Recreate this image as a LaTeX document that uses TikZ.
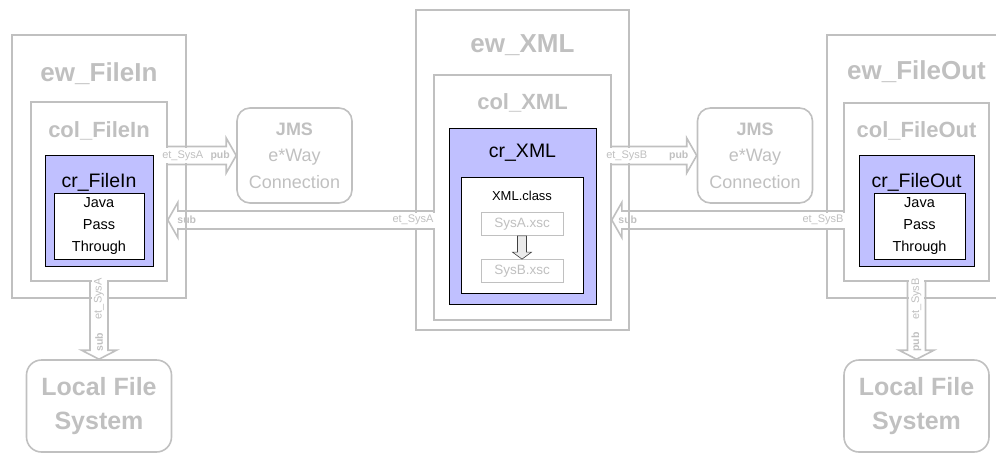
\documentclass[tikz,border=0pt]{standalone}
\usepackage{fontspec}
\setmainfont{Liberation Sans}
\usetikzlibrary{calc,positioning}
\definecolor{lgray}{RGB}{192,192,192}
\definecolor{crblue}{RGB}{192,192,255}

\tikzset{
  wh/.style args={#1x#2}{minimum width=#1pt, minimum height=#2pt},
  frame/.style={draw=lgray, line width=1.6pt, inner sep=0pt},
  crbox/.style={draw=black, fill=crblue, line width=0.8pt, inner sep=0pt},
  inbox/.style={draw=black, fill=white, line width=0.8pt, inner sep=0pt, align=center, font=\fontsize{14.5}{22}\selectfont},
  ewtitle/.style={text=lgray, anchor=base, font=\fontsize{26}{30}\selectfont\bfseries},
  coltitle/.style={text=lgray, anchor=base, font=\fontsize{22}{26}\selectfont\bfseries},
  crtitle/.style={anchor=base, font=\fontsize{19.5}{23}\selectfont},
  jms/.style={draw=lgray, line width=1.6pt, rounded corners=13pt, align=center, text=lgray, wh=115x95, font=\fontsize{18}{26.5}\selectfont},
  lfs/.style={draw=lgray, line width=1.6pt, rounded corners=15pt, align=center, text=lgray, wh=145x92, font=\fontsize{25}{34}\selectfont\bfseries},
  xsc/.style={draw=lgray, line width=0.7pt, text=lgray, inner sep=0pt, wh=82x23, font=\fontsize{13.5}{16}\selectfont},
  port/.style={fill=white, text=lgray, inner xsep=1pt, inner ysep=0pt, minimum height=15pt, font=\fontsize{11}{13}\selectfont},
  tag/.style={text=lgray, inner sep=0pt, font=\fontsize{10.5}{12}\selectfont\bfseries},
  blockarrow/.style args={#1/#2/#3}{to path={
    ($(\tikztostart)!#1!90:(\tikztotarget)$)
    -- ($(\tikztotarget)!#3!(\tikztostart)!#1!90:(\tikztotarget)$)
    -- ($(\tikztotarget)!#3!(\tikztostart)!#2!90:(\tikztotarget)$)
    -- (\tikztotarget)
    -- ($(\tikztotarget)!#3!(\tikztostart)!#2!-90:(\tikztotarget)$)
    -- ($(\tikztotarget)!#3!(\tikztostart)!#1!-90:(\tikztotarget)$)
    -- ($(\tikztostart)!#1!-90:(\tikztotarget)$)}},
  pipe/.style={draw=lgray, line width=1.6pt, blockarrow=9pt/17.5pt/10pt},
  drop/.style={draw=lgray, line width=1.6pt, blockarrow=9pt/17.5pt/9pt},
  mapping/.style={draw=black!75, fill=black!8, line width=0.6pt, blockarrow=4.5pt/9.5pt/7pt},
}

\begin{document}
\begin{tikzpicture}[x=1pt,y=-1pt]
\clip (0,0) rectangle (996,453);
\coordinate (pubY) at (0,155.5);
\coordinate (subY) at (0,220);

% ew_FileIn
\node[frame, wh=174x263] (ewIn) at (99,166.5) {};
\node[frame, wh=136x179] (colIn) at (99,191.5) {};
\node[crbox, wh=108x111] (crIn) at (99,210.5) {};
\node[inbox, wh=90x66] (javaIn) at (99,226) {Java\\Pass\\Through};
\node[ewtitle] at ([yshift=-47pt]ewIn.north) {ew\_FileIn};
\node[coltitle] at ([yshift=-36pt]colIn.north) {col\_FileIn};
\node[crtitle] at ([yshift=-33pt]crIn.north) {cr\_FileIn};

% ew_XML
\node[frame, wh=213x320] (ewXML) at (522.5,170) {};
\node[frame, wh=177x245] (colXML) at (522.5,197.5) {};
\node[crbox, wh=147x176] (crXML) at (522.5,216) {};
\node[inbox, wh=122x116] (classXML) at (522,235) {};
\node[ewtitle] at ([yshift=-43pt]ewXML.north) {ew\_XML};
\node[coltitle] at ([yshift=-35pt]colXML.north) {col\_XML};
\node[crtitle] at ([yshift=-30pt]crXML.north) {cr\_XML};
\node[anchor=base, font=\fontsize{13}{15}\selectfont] at ([yshift=-24pt]classXML.north) {XML.class};
\node[xsc] (sysA) at (522,224) {SysA.xsc};
\node[xsc] (sysB) at (522,271) {SysB.xsc};
\draw[mapping] (sysA.south) to (sysB.north) -- cycle;

% ew_FileOut
\node[frame, wh=183x263] (ewOut) at (918.5,166.5) {};
\node[frame, wh=145x178] (colOut) at (916.5,192) {};
\node[crbox, wh=115x111] (crOut) at (916.5,210.5) {};
\node[inbox, wh=91x66] (javaOut) at (919.5,226) {Java\\Pass\\Through};
\node[ewtitle] at ([yshift=-45pt]ewOut.north -| colOut.north) {ew\_FileOut};
\node[coltitle] at ([yshift=-35pt]colOut.north) {col\_FileOut};
\node[crtitle] at ([yshift=-33pt]crOut.north) {cr\_FileOut};

% external systems
\node[jms] (jmsA) at (294.5,155.5) {\textbf{JMS}\\e*Way\\Connection};
\node[jms] (jmsB) at (755,155.5) {\textbf{JMS}\\e*Way\\Connection};
\node[lfs] (lfsA) at (99,406) {Local File\\System};
\node[lfs] (lfsB) at (916.5,406) {Local File\\System};

% topics
\coordinate (pubAs) at (colIn.east |- pubY);
\coordinate (subAs) at (colXML.west |- subY);
\coordinate (subAe) at (colIn.east |- subY);
\coordinate (pubBs) at (colXML.east |- pubY);
\coordinate (subBs) at (colOut.west |- subY);
\coordinate (subBe) at (colXML.east |- subY);
\draw[pipe] (pubAs) to (jmsA.west);
\draw[pipe] (subAs) to (subAe);
\draw[pipe] (pubBs) to (jmsB.west);
\draw[pipe] (subBs) to (subBe);
\draw[drop] (colIn.south) to (lfsA.north);
\draw[drop] (colOut.south) to (lfsB.north);

\node[port] at ([xshift=15pt]pubAs) {et\_SysA};
\node[tag] at ([xshift=-16pt]jmsA.west) {pub};
\node[port, anchor=east] at ([xshift=1.5pt]subAs) {et\_SysA};
\node[tag] at ([xshift=19pt]subAe) {sub};
\node[port] at ([xshift=15pt]pubBs) {et\_SysB};
\node[tag] at ([xshift=-18pt]jmsB.west) {pub};
\node[port, anchor=east] at ([xshift=1.5pt]subBs) {et\_SysB};
\node[tag] at ([xshift=16pt]subBe) {sub};
\node[port, rotate=90] at ([yshift=-17pt]colIn.south) {et\_SysA};
\node[tag, rotate=90] at ([yshift=17pt]lfsA.north) {sub};
\node[port, rotate=90] at ([yshift=-17pt]colOut.south) {et\_SysB};
\node[tag, rotate=90] at ([yshift=17pt]lfsB.north) {pub};
\end{tikzpicture}
\end{document}
